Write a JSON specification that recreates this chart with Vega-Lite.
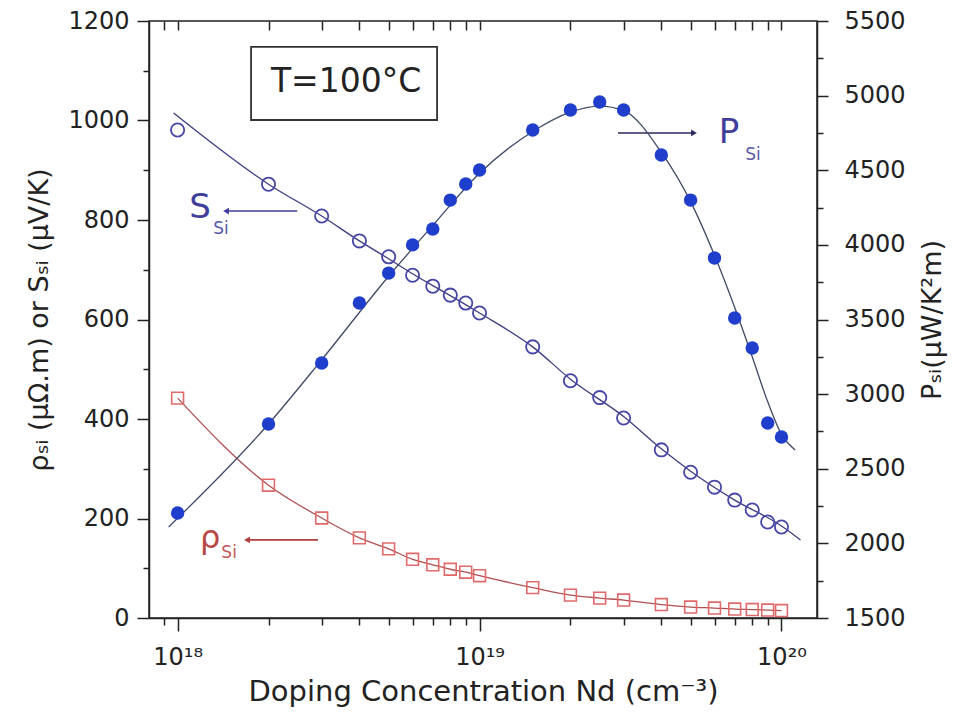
{
  "$schema": "https://vega.github.io/schema/vega-lite/v6.json",
  "autosize": {"type": "none"},
  "width": 668,
  "height": 597,
  "padding": {"left": 149, "top": 21, "right": 152, "bottom": 98},
  "background": "white",
  "config": {
    "view": {"stroke": "#222", "strokeWidth": 1.5},
    "font": "DejaVu Sans",
    "axis": {
      "domainColor": "#222", "domainWidth": 1.5,
      "tickColor": "#222", "tickWidth": 1.5,
      "labelFont": "DejaVu Sans", "labelFontSize": 24, "labelColor": "#222",
      "titleFont": "DejaVu Sans", "titleFontSize": 27, "titleFontWeight": "normal", "titleColor": "#222",
      "grid": false
    }
  },
  "datasets": {
    "S": [
      {"Nd": 1e18, "S": 981}, {"Nd": 2e18, "S": 872}, {"Nd": 3e18, "S": 808}, {"Nd": 4e18, "S": 758},
      {"Nd": 5e18, "S": 726}, {"Nd": 6e18, "S": 689}, {"Nd": 7e18, "S": 667}, {"Nd": 8e18, "S": 649},
      {"Nd": 9e18, "S": 633}, {"Nd": 1e19, "S": 613}, {"Nd": 1.5e19, "S": 545}, {"Nd": 2e19, "S": 477},
      {"Nd": 2.5e19, "S": 443}, {"Nd": 3e19, "S": 402}, {"Nd": 4e19, "S": 338}, {"Nd": 5e19, "S": 293},
      {"Nd": 6e19, "S": 263}, {"Nd": 7e19, "S": 237}, {"Nd": 8e19, "S": 217}, {"Nd": 9e19, "S": 193},
      {"Nd": 1e20, "S": 183}
    ],
    "S_fit": [
      {"Nd": 9.7e17, "S": 1015}, {"Nd": 2e18, "S": 872}, {"Nd": 3e18, "S": 808}, {"Nd": 4e18, "S": 758},
      {"Nd": 5e18, "S": 722}, {"Nd": 6e18, "S": 692}, {"Nd": 7e18, "S": 668}, {"Nd": 8e18, "S": 648},
      {"Nd": 1e19, "S": 613}, {"Nd": 1.5e19, "S": 545}, {"Nd": 2e19, "S": 480},
      {"Nd": 3e19, "S": 405}, {"Nd": 4e19, "S": 340}, {"Nd": 5e19, "S": 295},
      {"Nd": 7e19, "S": 237}, {"Nd": 1e20, "S": 185}, {"Nd": 1.156e20, "S": 157}
    ],
    "rho": [
      {"Nd": 1e18, "rho": 442}, {"Nd": 2e18, "rho": 267}, {"Nd": 3e18, "rho": 201}, {"Nd": 4e18, "rho": 161},
      {"Nd": 5e18, "rho": 139}, {"Nd": 6e18, "rho": 118}, {"Nd": 7e18, "rho": 107}, {"Nd": 8e18, "rho": 98},
      {"Nd": 9e18, "rho": 92}, {"Nd": 1e19, "rho": 85}, {"Nd": 1.5e19, "rho": 61}, {"Nd": 2e19, "rho": 46},
      {"Nd": 2.5e19, "rho": 40}, {"Nd": 3e19, "rho": 36}, {"Nd": 4e19, "rho": 27}, {"Nd": 5e19, "rho": 22},
      {"Nd": 6e19, "rho": 20}, {"Nd": 7e19, "rho": 18}, {"Nd": 8e19, "rho": 17}, {"Nd": 9e19, "rho": 16},
      {"Nd": 1e20, "rho": 15}
    ],
    "P": [
      {"Nd": 1e18, "P": 2203}, {"Nd": 2e18, "P": 2800}, {"Nd": 3e18, "P": 3208}, {"Nd": 4e18, "P": 3610},
      {"Nd": 5e18, "P": 3811}, {"Nd": 6e18, "P": 4000}, {"Nd": 7e18, "P": 4106}, {"Nd": 8e18, "P": 4300},
      {"Nd": 9e18, "P": 4408}, {"Nd": 1e19, "P": 4502}, {"Nd": 1.5e19, "P": 4770}, {"Nd": 2e19, "P": 4904},
      {"Nd": 2.5e19, "P": 4957}, {"Nd": 3e19, "P": 4904}, {"Nd": 4e19, "P": 4602}, {"Nd": 5e19, "P": 4300},
      {"Nd": 6e19, "P": 3912}, {"Nd": 7e19, "P": 3510}, {"Nd": 8e19, "P": 3309}, {"Nd": 9e19, "P": 2807},
      {"Nd": 1e20, "P": 2713}
    ],
    "P_fit": [
      {"Nd": 9.34e17, "P": 2110}, {"Nd": 2e18, "P": 2800}, {"Nd": 3e18, "P": 3230}, {"Nd": 5e18, "P": 3790},
      {"Nd": 7e18, "P": 4130}, {"Nd": 1e19, "P": 4480}, {"Nd": 1.5e19, "P": 4760}, {"Nd": 2e19, "P": 4890},
      {"Nd": 2.5e19, "P": 4930}, {"Nd": 3e19, "P": 4900}, {"Nd": 4e19, "P": 4620}, {"Nd": 5e19, "P": 4290},
      {"Nd": 6e19, "P": 3930}, {"Nd": 7e19, "P": 3580}, {"Nd": 8e19, "P": 3250}, {"Nd": 9e19, "P": 2950},
      {"Nd": 1e20, "P": 2730}, {"Nd": 1.11e20, "P": 2626}
    ],
    "box": [{"x1": 1.751e18, "x2": 7.233e18, "y1": 1148, "y2": 1001, "text": "T=100°C", "tx": 3.614e18, "ty": 1077}],
    "arrows_blue_left": [{"x1": 2.49e18, "x2": 1.447e18, "y": 818}],
    "arrows_red_left": [{"x1": 2.919e18, "x2": 1.698e18, "y": 157}],
    "arrows_right": [{"x1": 2.874e19, "x2": 5.13e19, "y": 975}],
    "letters_blue": [
      {"x": 1.187e18, "y": 824, "text": "S"},
      {"x": 6.70e19, "y": 975, "text": "P"}
    ],
    "subs_blue": [
      {"x": 1.393e18, "y": 782, "text": "Si"},
      {"x": 8.05e19, "y": 931, "text": "Si"}
    ],
    "letters_red": [{"x": 1.281e18, "y": 160, "text": "ρ"}],
    "subs_red": [{"x": 1.481e18, "y": 131, "text": "Si"}]
  },
  "resolve": {"scale": {"x": "independent", "y": "independent"}},
  "layer": [
    {
      "encoding": {
        "x": {
          "type": "quantitative",
          "scale": {"type": "log", "domain": [8.04e17, 1.311e20], "nice": false},
          "axis": {
            "orient": "bottom",
            "title": "Doping Concentration Nd (cm⁻³)",
            "titleFontSize": 29,
            "values": [9e17, 1e18, 2e18, 3e18, 4e18, 5e18, 6e18, 7e18, 8e18, 9e18, 1e19, 2e19, 3e19, 4e19, 5e19, 6e19, 7e19, 8e19, 9e19, 1e20],
            "labelExpr": "datum.value == 1e18 ? '10¹⁸' : datum.value == 1e19 ? '10¹⁹' : datum.value == 1e20 ? '10²⁰' : ''",
            "labelOverlap": false, "labelFlush": false,
            "tickSize": {"condition": {"test": "datum.value == 1e18 || datum.value == 1e19 || datum.value == 1e20", "value": 13}, "value": 7},
            "labelPadding": 14, "titlePadding": 8
          }
        },
        "y": {
          "type": "quantitative",
          "scale": {"domain": [0, 1200], "nice": false, "zero": false},
          "axis": {
            "orient": "left",
            "title": "ρₛᵢ (μΩ.m) or Sₛᵢ (μV/K)",
            "values": [0, 100, 200, 300, 400, 500, 600, 700, 800, 900, 1000, 1100, 1200],
            "format": "d",
            "labelExpr": "datum.value % 200 == 0 ? datum.label : ''",
            "labelOverlap": false, "labelFlush": false,
            "tickSize": {"condition": {"test": "datum.value % 200 == 0", "value": 12}, "value": 6},
            "labelPadding": 8, "titlePadding": 14
          }
        }
      },
      "layer": [
        {
          "data": {"name": "S_fit"},
          "mark": {"type": "line", "color": "#3d3d80", "strokeWidth": 1.3, "interpolate": "monotone"},
          "encoding": {"x": {"field": "Nd"}, "y": {"field": "S"}}
        },
        {
          "data": {"name": "S"},
          "mark": {"type": "point", "shape": "circle", "filled": false, "color": "#4646a6", "strokeWidth": 1.8, "size": 175, "opacity": 1},
          "encoding": {"x": {"field": "Nd"}, "y": {"field": "S"}}
        },
        {
          "data": {"name": "rho"},
          "mark": {"type": "line", "color": "#b05050", "strokeWidth": 1.3, "interpolate": "monotone"},
          "encoding": {"x": {"field": "Nd"}, "y": {"field": "rho"}}
        },
        {
          "data": {"name": "rho"},
          "mark": {"type": "point", "shape": "square", "filled": false, "color": "#e06a6a", "strokeWidth": 1.6, "size": 140, "opacity": 1},
          "encoding": {"x": {"field": "Nd"}, "y": {"field": "rho"}}
        },
        {
          "data": {"name": "box"},
          "mark": {"type": "rect", "fill": "white", "stroke": "#333", "strokeWidth": 1.8},
          "encoding": {"x": {"field": "x1"}, "x2": {"field": "x2"}, "y": {"field": "y1"}, "y2": {"field": "y2"}}
        },
        {
          "data": {"name": "box"},
          "mark": {"type": "text", "font": "DejaVu Sans", "fontSize": 33, "color": "#222", "align": "center", "baseline": "middle"},
          "encoding": {"x": {"field": "tx"}, "y": {"field": "ty"}, "text": {"field": "text"}}
        },
        {
          "data": {"name": "arrows_blue_left"},
          "mark": {"type": "rule", "color": "#3c3ca0", "strokeWidth": 1.6},
          "encoding": {"x": {"field": "x1"}, "x2": {"field": "x2"}, "y": {"field": "y"}}
        },
        {
          "data": {"name": "arrows_blue_left"},
          "mark": {"type": "point", "shape": "triangle-left", "filled": true, "color": "#3c3ca0", "size": 45, "opacity": 1},
          "encoding": {"x": {"field": "x2"}, "y": {"field": "y"}}
        },
        {
          "data": {"name": "arrows_red_left"},
          "mark": {"type": "rule", "color": "#b04040", "strokeWidth": 1.6},
          "encoding": {"x": {"field": "x1"}, "x2": {"field": "x2"}, "y": {"field": "y"}}
        },
        {
          "data": {"name": "arrows_red_left"},
          "mark": {"type": "point", "shape": "triangle-left", "filled": true, "color": "#b04040", "size": 45, "opacity": 1},
          "encoding": {"x": {"field": "x2"}, "y": {"field": "y"}}
        },
        {
          "data": {"name": "arrows_right"},
          "mark": {"type": "rule", "color": "#2a2a60", "strokeWidth": 1.6},
          "encoding": {"x": {"field": "x1"}, "x2": {"field": "x2"}, "y": {"field": "y"}}
        },
        {
          "data": {"name": "arrows_right"},
          "mark": {"type": "point", "shape": "triangle-right", "filled": true, "color": "#2a2a60", "size": 45, "opacity": 1},
          "encoding": {"x": {"field": "x2"}, "y": {"field": "y"}}
        },
        {
          "data": {"name": "letters_blue"},
          "mark": {"type": "text", "font": "DejaVu Sans", "fontSize": 34, "color": "#40409c", "align": "center", "baseline": "middle"},
          "encoding": {"x": {"field": "x"}, "y": {"field": "y"}, "text": {"field": "text"}}
        },
        {
          "data": {"name": "subs_blue"},
          "mark": {"type": "text", "font": "DejaVu Sans", "fontSize": 17, "color": "#5a5aa8", "align": "center", "baseline": "middle"},
          "encoding": {"x": {"field": "x"}, "y": {"field": "y"}, "text": {"field": "text"}}
        },
        {
          "data": {"name": "letters_red"},
          "mark": {"type": "text", "font": "DejaVu Sans", "fontSize": 32, "color": "#b84848", "align": "center", "baseline": "middle"},
          "encoding": {"x": {"field": "x"}, "y": {"field": "y"}, "text": {"field": "text"}}
        },
        {
          "data": {"name": "subs_red"},
          "mark": {"type": "text", "font": "DejaVu Sans", "fontSize": 17, "color": "#c05858", "align": "center", "baseline": "middle"},
          "encoding": {"x": {"field": "x"}, "y": {"field": "y"}, "text": {"field": "text"}}
        }
      ]
    },
    {
      "encoding": {
        "x": {
          "field": "Nd", "type": "quantitative",
          "scale": {"type": "log", "domain": [8.04e17, 1.311e20], "nice": false},
          "axis": {
            "orient": "top", "title": null, "labels": false, "domain": false, "ticks": true,
            "values": [9e17, 1e18, 2e18, 3e18, 4e18, 5e18, 6e18, 7e18, 8e18, 9e18, 1e19, 2e19, 3e19, 4e19, 5e19, 6e19, 7e19, 8e19, 9e19, 1e20],
            "offset": -9,
            "tickSize": 9
          }
        },
        "y": {
          "field": "P", "type": "quantitative",
          "scale": {"domain": [1500, 5500], "nice": false, "zero": false},
          "axis": {
            "orient": "right",
            "title": "Pₛᵢ(μW/K²m)",
            "titleAngle": 270, "titleBaseline": "top",
            "values": [1500, 1750, 2000, 2250, 2500, 2750, 3000, 3250, 3500, 3750, 4000, 4250, 4500, 4750, 5000, 5250, 5500],
            "labelExpr": "datum.value % 500 == 0 ? datum.label : ''",
            "format": "d",
            "labelOverlap": false, "labelFlush": false,
            "tickSize": {"condition": {"test": "datum.value % 500 == 0", "value": 11}, "value": 6},
            "labelPadding": 16, "titlePadding": 14
          }
        }
      },
      "layer": [
        {
          "data": {"name": "P_fit"},
          "mark": {"type": "line", "color": "#404a66", "strokeWidth": 1.3, "interpolate": "monotone"}
        },
        {
          "data": {"name": "P"},
          "mark": {"type": "point", "shape": "circle", "filled": true, "color": "#1f3ecc", "size": 180, "opacity": 1}
        }
      ]
    }
  ]
}
